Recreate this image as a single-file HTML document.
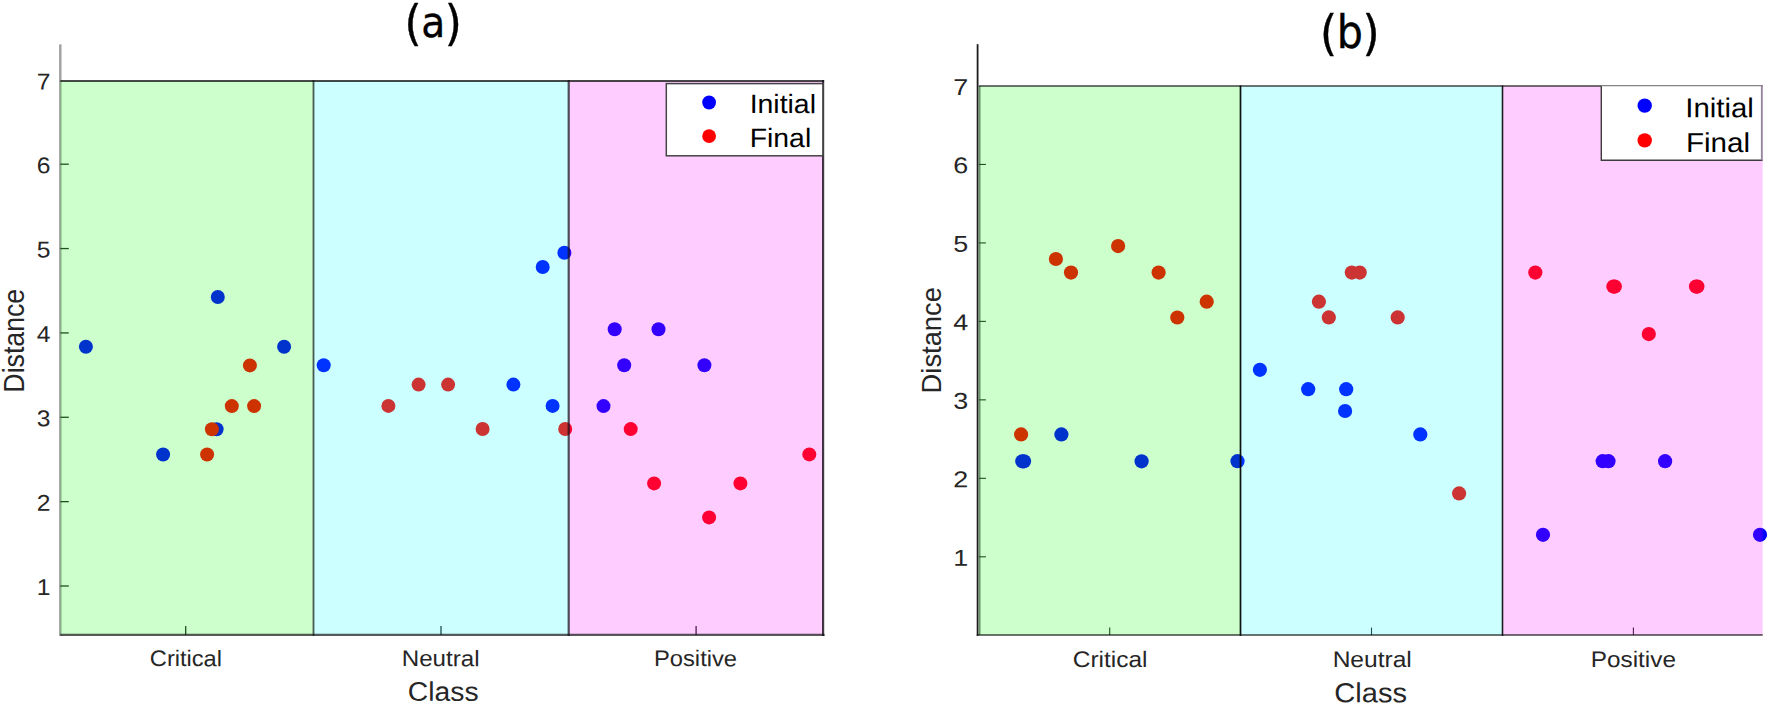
<!DOCTYPE html>
<html lang="en"><head><meta charset="utf-8"><title>Distance by class</title>
<style>html,body{margin:0;padding:0;background:#fff}svg{display:block}text{font-family:'Liberation Sans', sans-serif}</style></head><body>
<svg width="1770" height="707" viewBox="0 0 1770 707">
<rect width="1770" height="707" fill="#fff"/>
<g id="panel-a">
<rect x="59.1" y="44.4" width="2.4" height="591.6" fill="#a0a0a0"/>
<line x1="60.3" x2="68.8" y1="586.00" y2="586.00" stroke="#262626" stroke-width="1.3"/>
<line x1="60.3" x2="68.8" y1="501.64" y2="501.64" stroke="#262626" stroke-width="1.3"/>
<line x1="60.3" x2="68.8" y1="417.28" y2="417.28" stroke="#262626" stroke-width="1.3"/>
<line x1="60.3" x2="68.8" y1="332.92" y2="332.92" stroke="#262626" stroke-width="1.3"/>
<line x1="60.3" x2="68.8" y1="248.56" y2="248.56" stroke="#262626" stroke-width="1.3"/>
<line x1="60.3" x2="68.8" y1="164.20" y2="164.20" stroke="#262626" stroke-width="1.3"/>
<line x1="185.70" x2="185.70" y1="635.0" y2="626.0" stroke="#262626" stroke-width="1.3"/>
<line x1="441.00" x2="441.00" y1="635.0" y2="626.0" stroke="#262626" stroke-width="1.3"/>
<line x1="696.10" x2="696.10" y1="635.0" y2="626.0" stroke="#262626" stroke-width="1.3"/>
<circle cx="85.9" cy="346.7" r="7.0" fill="#0000ff"/>
<circle cx="217.8" cy="297.0" r="7.0" fill="#0000ff"/>
<circle cx="284.1" cy="346.7" r="7.0" fill="#0000ff"/>
<circle cx="249.9" cy="365.4" r="7.0" fill="#ff0000"/>
<circle cx="231.8" cy="406.1" r="7.0" fill="#ff0000"/>
<circle cx="254.1" cy="406.1" r="7.0" fill="#ff0000"/>
<circle cx="216.6" cy="429.3" r="7.0" fill="#0000ff"/>
<circle cx="211.9" cy="429.3" r="7.0" fill="#ff0000"/>
<circle cx="163.1" cy="454.5" r="7.0" fill="#0000ff"/>
<circle cx="207.1" cy="454.5" r="7.0" fill="#ff0000"/>
<circle cx="323.7" cy="365.3" r="7.0" fill="#0000ff"/>
<circle cx="388.4" cy="405.9" r="7.0" fill="#ff0000"/>
<circle cx="418.6" cy="384.6" r="7.0" fill="#ff0000"/>
<circle cx="448.1" cy="384.6" r="7.0" fill="#ff0000"/>
<circle cx="482.6" cy="429.0" r="7.0" fill="#ff0000"/>
<circle cx="513.4" cy="384.6" r="7.0" fill="#0000ff"/>
<circle cx="552.6" cy="405.9" r="7.0" fill="#0000ff"/>
<circle cx="542.7" cy="267.0" r="7.0" fill="#0000ff"/>
<circle cx="564.4" cy="252.7" r="7.0" fill="#0000ff"/>
<circle cx="565.2" cy="429.0" r="7.0" fill="#ff0000"/>
<circle cx="614.7" cy="329.2" r="7.0" fill="#0000ff"/>
<circle cx="658.5" cy="329.2" r="7.0" fill="#0000ff"/>
<circle cx="624.2" cy="365.3" r="7.0" fill="#0000ff"/>
<circle cx="704.4" cy="365.3" r="7.0" fill="#0000ff"/>
<circle cx="603.5" cy="406.1" r="7.0" fill="#0000ff"/>
<circle cx="630.7" cy="429.1" r="7.0" fill="#ff0000"/>
<circle cx="809.3" cy="454.4" r="7.0" fill="#ff0000"/>
<circle cx="654.1" cy="483.4" r="7.0" fill="#ff0000"/>
<circle cx="740.4" cy="483.4" r="7.0" fill="#ff0000"/>
<circle cx="709.1" cy="517.4" r="7.0" fill="#ff0000"/>
<rect x="60.3" y="80.9" width="253.20" height="554.10" fill="rgba(0,255,0,0.2)"/>
<rect x="313.5" y="80.9" width="255.20" height="554.10" fill="rgba(0,255,255,0.2)"/>
<rect x="568.7" y="80.9" width="254.40" height="554.10" fill="rgba(255,0,255,0.2)"/>
<g fill="none" stroke="rgba(20,20,20,0.78)" stroke-width="2"><line x1="60.3" x2="824.1" y1="81" y2="81"/><line x1="60.3" x2="824.6" y1="634.9" y2="634.9" stroke="rgba(20,20,20,0.70)" stroke-width="2.2"/><line x1="313.5" x2="313.5" y1="80" y2="636" stroke="rgba(20,25,25,0.72)" stroke-width="1.8"/><line x1="568.7" x2="568.7" y1="80" y2="636" stroke="rgba(20,20,25,0.74)" stroke-width="2.2"/><line x1="823.1" x2="823.1" y1="80" y2="636" stroke="rgba(20,15,25,0.82)" stroke-width="2.2"/></g>
<rect x="666.3" y="83.6" width="156.6" height="72.2" fill="#fff" stroke="#444" stroke-width="1.5"/>
<circle cx="709.1" cy="102.5" r="6.9" fill="#0000ff"/><circle cx="709.1" cy="136.1" r="6.9" fill="#ff0000"/>
<text transform="translate(749.64,113.10) rotate(0.03) scale(0.2844,0.2660)" font-size="100" fill="#000" >Initial</text>
<text transform="translate(749.73,147.00) rotate(0.03) scale(0.2837,0.2660)" font-size="100" fill="#000" >Final</text>
<text transform="translate(36.75,595.00) rotate(0.03) scale(0.2462,0.2290)" font-size="100" fill="#262626">1</text>
<text transform="translate(36.75,510.64) rotate(0.03) scale(0.2462,0.2290)" font-size="100" fill="#262626">2</text>
<text transform="translate(36.75,426.28) rotate(0.03) scale(0.2462,0.2290)" font-size="100" fill="#262626">3</text>
<text transform="translate(36.75,341.92) rotate(0.03) scale(0.2462,0.2290)" font-size="100" fill="#262626">4</text>
<text transform="translate(36.75,257.56) rotate(0.03) scale(0.2462,0.2290)" font-size="100" fill="#262626">5</text>
<text transform="translate(36.75,173.20) rotate(0.03) scale(0.2462,0.2290)" font-size="100" fill="#262626">6</text>
<text transform="translate(36.75,89.50) rotate(0.03) scale(0.2462,0.2290)" font-size="100" fill="#262626">7</text>
<text transform="translate(149.82,666.10) rotate(0.03) scale(0.2364,0.2250)" font-size="100" fill="#262626" >Critical</text>
<text transform="translate(401.77,666.10) rotate(0.03) scale(0.2412,0.2250)" font-size="100" fill="#262626" >Neutral</text>
<text transform="translate(654.00,666.10) rotate(0.03) scale(0.2373,0.2250)" font-size="100" fill="#262626" >Positive</text>
<text transform="translate(407.79,700.70) rotate(0.03) scale(0.2830,0.2680)" font-size="100" fill="#262626" >Class</text>
<text transform="translate(24.30,392.64) rotate(-90) scale(0.2671,0.2900)" font-size="100" fill="#262626">Distance</text>
<text style="font-family:'DejaVu Sans Condensed','DejaVu Sans',sans-serif" fill="#000" stroke="#000" stroke-width="0.35"><tspan x="404.54" y="39.58" font-size="48.65">(</tspan><tspan x="421.14" y="37.46" font-size="43.51">a</tspan><tspan x="444.83" y="39.58" font-size="48.65">)</tspan></text>
</g>
<g id="panel-b">
<rect x="976.7" y="44.2" width="1.8" height="591.6" fill="#1c1c1c"/><rect x="978.5" y="86" width="2.0" height="549" fill="#7c7c7c"/>
<line x1="978.9" x2="985.9" y1="556.80" y2="556.80" stroke="#262626" stroke-width="1.1"/>
<line x1="978.9" x2="985.9" y1="478.33" y2="478.33" stroke="#262626" stroke-width="1.1"/>
<line x1="978.9" x2="985.9" y1="399.86" y2="399.86" stroke="#262626" stroke-width="1.1"/>
<line x1="978.9" x2="985.9" y1="321.39" y2="321.39" stroke="#262626" stroke-width="1.1"/>
<line x1="978.9" x2="985.9" y1="242.92" y2="242.92" stroke="#262626" stroke-width="1.1"/>
<line x1="978.9" x2="985.9" y1="164.45" y2="164.45" stroke="#262626" stroke-width="1.1"/>
<line x1="1109.70" x2="1109.70" y1="635.1" y2="627.6" stroke="#262626" stroke-width="1.1"/>
<line x1="1371.50" x2="1371.50" y1="635.1" y2="627.6" stroke="#262626" stroke-width="1.1"/>
<line x1="1633.40" x2="1633.40" y1="635.1" y2="627.6" stroke="#262626" stroke-width="1.1"/>
<circle cx="1118.1" cy="246.1" r="7.1" fill="#ff0000"/>
<circle cx="1055.9" cy="259.0" r="7.1" fill="#ff0000"/>
<circle cx="1071.0" cy="272.6" r="7.1" fill="#ff0000"/>
<circle cx="1158.6" cy="272.6" r="7.1" fill="#ff0000"/>
<circle cx="1206.7" cy="301.7" r="7.1" fill="#ff0000"/>
<circle cx="1177.3" cy="317.5" r="7.1" fill="#ff0000"/>
<circle cx="1021.1" cy="434.4" r="7.1" fill="#ff0000"/>
<circle cx="1061.4" cy="434.4" r="7.1" fill="#0000ff"/>
<circle cx="1022.3" cy="461.3" r="7.1" fill="#0000ff"/>
<circle cx="1024.0" cy="461.3" r="7.1" fill="#0000ff"/>
<circle cx="1141.6" cy="461.3" r="7.1" fill="#0000ff"/>
<circle cx="1237.5" cy="461.2" r="7.1" fill="#0000ff"/>
<circle cx="1351.8" cy="272.6" r="7.1" fill="#ff0000"/>
<circle cx="1359.7" cy="272.6" r="7.1" fill="#ff0000"/>
<circle cx="1318.9" cy="301.7" r="7.1" fill="#ff0000"/>
<circle cx="1328.8" cy="317.4" r="7.1" fill="#ff0000"/>
<circle cx="1397.7" cy="317.4" r="7.1" fill="#ff0000"/>
<circle cx="1259.9" cy="369.8" r="7.1" fill="#0000ff"/>
<circle cx="1308.2" cy="389.2" r="7.1" fill="#0000ff"/>
<circle cx="1346.2" cy="389.2" r="7.1" fill="#0000ff"/>
<circle cx="1345.1" cy="411.0" r="7.1" fill="#0000ff"/>
<circle cx="1420.3" cy="434.4" r="7.1" fill="#0000ff"/>
<circle cx="1459.1" cy="493.4" r="7.1" fill="#ff0000"/>
<circle cx="1535.3" cy="272.6" r="7.1" fill="#ff0000"/>
<circle cx="1613.4" cy="286.6" r="7.1" fill="#ff0000"/>
<circle cx="1614.8" cy="286.6" r="7.1" fill="#ff0000"/>
<circle cx="1696.0" cy="286.6" r="7.1" fill="#ff0000"/>
<circle cx="1697.4" cy="286.6" r="7.1" fill="#ff0000"/>
<circle cx="1648.8" cy="334.1" r="7.1" fill="#ff0000"/>
<circle cx="1602.7" cy="461.2" r="7.1" fill="#0000ff"/>
<circle cx="1608.5" cy="461.2" r="7.1" fill="#0000ff"/>
<circle cx="1665.1" cy="461.2" r="7.1" fill="#0000ff"/>
<circle cx="1543.0" cy="534.8" r="7.1" fill="#0000ff"/>
<circle cx="1760.0" cy="534.8" r="7.1" fill="#0000ff"/>
<rect x="978.9" y="86.1" width="261.60" height="549.00" fill="rgba(0,255,0,0.2)"/>
<rect x="1240.5" y="86.1" width="262.00" height="549.00" fill="rgba(0,255,255,0.2)"/>
<rect x="1502.5" y="86.1" width="260.20" height="549.00" fill="rgba(255,0,255,0.2)"/>
<g fill="none" stroke="rgba(20,20,20,0.8)" stroke-width="1.5"><line x1="978.9" x2="1762.7" y1="86.1" y2="86.1"/><line x1="976.7" x2="1762.7" y1="635.1" y2="635.1"/><line x1="1240.5" x2="1240.5" y1="85.4" y2="635.8" stroke="rgba(5,5,5,0.95)" stroke-width="1.7"/><line x1="1502.5" x2="1502.5" y1="85.4" y2="635.8" stroke="rgba(5,5,5,0.9)" stroke-width="1.6"/></g>
<rect x="1601.3" y="85.6" width="160.6" height="74.6" fill="#fff"/>
<g fill="none" stroke-width="1.4"><path d="M1601.3 84.9V160.2H1762.6" stroke="#3c3c3c"/><path d="M1600.6 85.6H1762.6" stroke="#848484"/><path d="M1761.8 85.6V160.2" stroke="#94849c" stroke-width="1.8"/></g>
<circle cx="1644.7" cy="105.6" r="7.2" fill="#0000ff"/><circle cx="1644.7" cy="140.4" r="7.2" fill="#ff0000"/>
<text transform="translate(1685.26,117.20) rotate(0.03) scale(0.2936,0.2740)" font-size="100" fill="#000" >Initial</text>
<text transform="translate(1685.93,152.00) rotate(0.03) scale(0.2960,0.2740)" font-size="100" fill="#000" >Final</text>
<text transform="translate(953.28,565.70) rotate(0.03) scale(0.2691,0.2290)" font-size="100" fill="#262626">1</text>
<text transform="translate(953.28,487.23) rotate(0.03) scale(0.2691,0.2290)" font-size="100" fill="#262626">2</text>
<text transform="translate(953.28,408.76) rotate(0.03) scale(0.2691,0.2290)" font-size="100" fill="#262626">3</text>
<text transform="translate(953.28,330.29) rotate(0.03) scale(0.2691,0.2290)" font-size="100" fill="#262626">4</text>
<text transform="translate(953.28,251.82) rotate(0.03) scale(0.2691,0.2290)" font-size="100" fill="#262626">5</text>
<text transform="translate(953.28,173.35) rotate(0.03) scale(0.2691,0.2290)" font-size="100" fill="#262626">6</text>
<text transform="translate(953.28,94.88) rotate(0.03) scale(0.2691,0.2290)" font-size="100" fill="#262626">7</text>
<text transform="translate(1072.78,667.00) rotate(0.03) scale(0.2449,0.2250)" font-size="100" fill="#262626" >Critical</text>
<text transform="translate(1332.63,667.00) rotate(0.03) scale(0.2458,0.2250)" font-size="100" fill="#262626" >Neutral</text>
<text transform="translate(1590.85,667.00) rotate(0.03) scale(0.2432,0.2250)" font-size="100" fill="#262626" >Positive</text>
<text transform="translate(1334.35,702.20) rotate(0.03) scale(0.2905,0.2750)" font-size="100" fill="#262626" >Class</text>
<text transform="translate(940.60,393.39) rotate(-90) scale(0.2732,0.2850)" font-size="100" fill="#262626">Distance</text>
<text style="font-family:'DejaVu Sans Condensed','DejaVu Sans',sans-serif" fill="#000" stroke="#000" stroke-width="0.35"><tspan x="1320.04" y="49.58" font-size="48.65">(</tspan><tspan x="1336.70" y="47.84" font-size="45.84">b</tspan><tspan x="1362.43" y="49.58" font-size="48.65">)</tspan></text>
</g>
</svg></body></html>
